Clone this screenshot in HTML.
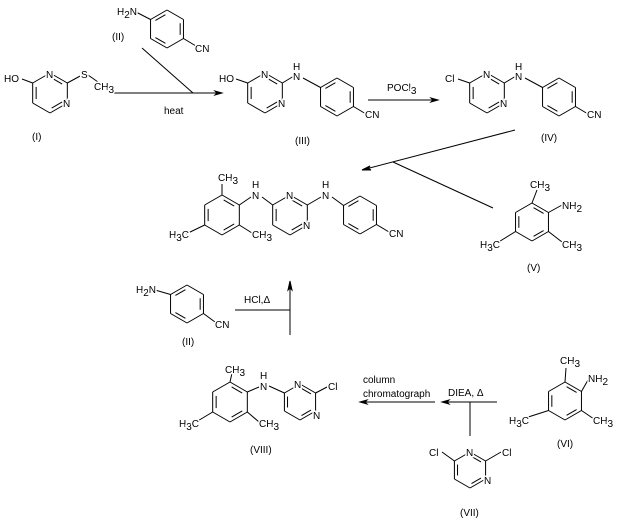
<!DOCTYPE html>
<html><head><meta charset="utf-8"><style>
html,body{margin:0;padding:0;background:#fff;width:617px;height:520px;overflow:hidden}
svg text{font-family:"Liberation Sans",sans-serif;font-size:10px;fill:#000;stroke:#fff;stroke-width:3px;paint-order:stroke}
svg text.s{font-size:7px}
</style></head><body>
<svg id="g" width="617" height="520" viewBox="0 0 617 520" xmlns="http://www.w3.org/2000/svg">
<g id="geo" stroke="#000" stroke-width="1" fill="none"></g>
<g id="txt">
<!-- I -->
<text x="4" y="82">HO</text>
<text x="46" y="78">N</text>
<text x="63" y="107">N</text>
<text x="81" y="78">S</text>
<text x="94" y="90">CH<tspan class="s" dy="3">3</tspan></text>
<text x="32" y="140">(I)</text>
<!-- II top -->
<text x="117" y="15">H<tspan class="s" dy="3">2</tspan><tspan dy="-3">N</tspan></text>
<text x="195" y="52">CN</text>
<text x="112" y="40">(II)</text>
<text x="164" y="114">heat</text>
<!-- III -->
<text x="219" y="82">HO</text>
<text x="261" y="78">N</text>
<text x="278" y="107">N</text>
<text x="293" y="70">H</text>
<text x="293" y="80">N</text>
<text x="365" y="118">CN</text>
<text x="295" y="144">(III)</text>
<!-- arrow 2 -->
<text x="387" y="91">POCl<tspan class="s" dy="3">3</tspan></text>
<!-- IV -->
<text x="445" y="82">Cl</text>
<text x="483" y="78">N</text>
<text x="500" y="107">N</text>
<text x="515" y="70">H</text>
<text x="515" y="80">N</text>
<text x="587" y="118">CN</text>
<text x="541" y="141">(IV)</text>
<!-- product -->
<text x="218" y="181">CH<tspan class="s" dy="3">3</tspan></text>
<text x="252" y="188">H</text>
<text x="252" y="199">N</text>
<text x="286" y="199">N</text>
<text x="303" y="229">N</text>
<text x="322" y="188">H</text>
<text x="322" y="199">N</text>
<text x="169" y="238">H<tspan class="s" dy="3">3</tspan><tspan dy="-3">C</tspan></text>
<text x="252" y="238">CH<tspan class="s" dy="3">3</tspan></text>
<text x="389" y="237">CN</text>
<!-- V -->
<text x="530" y="188">CH<tspan class="s" dy="3">3</tspan></text>
<text x="562" y="209">NH<tspan class="s" dy="3">2</tspan></text>
<text x="480" y="248">H<tspan class="s" dy="3">3</tspan><tspan dy="-3">C</tspan></text>
<text x="562" y="248">CH<tspan class="s" dy="3">3</tspan></text>
<text x="527" y="271">(V)</text>
<!-- II bottom -->
<text x="136" y="293">H<tspan class="s" dy="3">2</tspan><tspan dy="-3">N</tspan></text>
<text x="215" y="328">CN</text>
<text x="182" y="345">(II)</text>
<text x="244" y="303">HCl,Δ</text>
<!-- VIII -->
<text x="225" y="373">CH<tspan class="s" dy="3">3</tspan></text>
<text x="260" y="379">H</text>
<text x="260" y="390">N</text>
<text x="294" y="388">N</text>
<text x="328" y="390">Cl</text>
<text x="313" y="419">N</text>
<text x="179" y="427">H<tspan class="s" dy="3">3</tspan><tspan dy="-3">C</tspan></text>
<text x="259" y="427">CH<tspan class="s" dy="3">3</tspan></text>
<text x="250" y="453">(VIII)</text>
<!-- arrows text -->
<text x="363" y="383">column</text>
<text x="363" y="397">chromatograph</text>
<text x="448" y="396">DIEA, Δ</text>
<!-- VII -->
<text x="429" y="456">Cl</text>
<text x="466" y="456">N</text>
<text x="502" y="456">Cl</text>
<text x="484" y="484">N</text>
<text x="460" y="516">(VII)</text>
<!-- VI -->
<text x="560" y="364">CH<tspan class="s" dy="3">3</tspan></text>
<text x="588" y="382">NH<tspan class="s" dy="3">2</tspan></text>
<text x="509" y="424">H<tspan class="s" dy="3">3</tspan><tspan dy="-3">C</tspan></text>
<text x="593" y="424">CH<tspan class="s" dy="3">3</tspan></text>
<text x="557" y="447">(VI)</text>
</g>
</svg>
<script>
(function(){
var g=document.getElementById('geo'),NS='http://www.w3.org/2000/svg';
function L(a,b,c,d){var e=document.createElementNS(NS,'line');e.setAttribute('x1',a);e.setAttribute('y1',b);e.setAttribute('x2',c);e.setAttribute('y2',d);g.appendChild(e);}
function P(pts){var e=document.createElementNS(NS,'polygon');e.setAttribute('points',pts);e.setAttribute('fill','#000');g.appendChild(e);}
function ring(cx,cy,r,db){var v=[];for(var i=0;i<6;i++){var a=(-90+60*i)*Math.PI/180;v.push([cx+r*Math.cos(a),cy+r*Math.sin(a)]);}
for(i=0;i<6;i++){var p=v[i],q=v[(i+1)%6];L(p[0],p[1],q[0],q[1]);}
db.forEach(function(i){var p=v[i],q=v[(i+1)%6];var p1=[p[0]+(cx-p[0])*.2,p[1]+(cy-p[1])*.2],q1=[q[0]+(cx-q[0])*.2,q[1]+(cy-q[1])*.2];
L(p1[0]+(q1[0]-p1[0])*.12,p1[1]+(q1[1]-p1[1])*.12,p1[0]+(q1[0]-p1[0])*.88,p1[1]+(q1[1]-p1[1])*.88);});return v;}
function arrL(x1,y,x2){L(x1,y,x2,y);var d=x2>x1?1:-1;P(x2+','+y+' '+(x2-7*d)+','+(y-2)+' '+(x2-5*d)+','+y+' '+(x2-7*d)+','+(y+2));}
var B=[1,3,5],Y=[0,2,4];
// I
var v=ring(50,93,20,Y);L(v[5][0],v[5][1],22,79);L(v[1][0],v[1][1],82,75);L(88,75,98,82);
// II top
v=ring(167,29,19,B);L(v[5][0],v[5][1],136,12);L(v[2][0],v[2][1],196,46);
// arrow1
arrL(110,93,222);L(142,48,193,93);
// III
v=ring(265,93,20,Y);L(v[5][0],v[5][1],236,79);L(v[1][0],v[1][1],294,76);
var w=ring(337,97,19,B);L(303,78,w[5][0],w[5][1]);L(w[2][0],w[2][1],366,114);
// arrow2
arrL(368,100,438);
// IV
v=ring(487,93,20,Y);L(v[5][0],v[5][1],458,79);L(v[1][0],v[1][1],516,76);
w=ring(559,97,19,B);L(525,78,w[5][0],w[5][1]);L(w[2][0],w[2][1],588,114);
// arrow 3
L(515,130,362,170);P('362,170 370,166 368,168.5 371,170');L(393,162,493,208);
// product
v=ring(222,215,20,[0,2,4]);L(v[0][0],v[0][1],222,184);L(v[1][0],v[1][1],251,197);L(v[2][0],v[2][1],252,233);L(v[4][0],v[4][1],186,234);
w=ring(290,215,20,Y);L(262,197,w[5][0],w[5][1]);L(w[1][0],w[1][1],321,197);
var u=ring(360,215,19,B);L(332,197,u[5][0],u[5][1]);L(u[2][0],u[2][1],389,232);
// V
v=ring(532,222,19,[0,2,4]);L(v[0][0],v[0][1],537,190);L(v[1][0],v[1][1],562,205);L(v[2][0],v[2][1],562,242);L(v[4][0],v[4][1],497,243);
// II bottom
v=ring(187,304,19,B);L(v[5][0],v[5][1],155,290);L(v[2][0],v[2][1],215,322);
L(235,310,290,310);L(290,335,290,283);P('290,281 288,290 290,288 292,290');
// VIII
v=ring(230,402,20,[0,2,4]);L(v[0][0],v[0][1],232,373);L(v[1][0],v[1][1],259,387);L(v[2][0],v[2][1],259,422);L(v[4][0],v[4][1],196,422);
w=ring(300,402,18,Y);L(269,386,w[5][0],w[5][1]);L(w[1][0],w[1][1],327,387);
// arrows bottom
arrL(435,402,360);arrL(497,402,442);L(470,402,470,436);
// VII
v=ring(470,470,18,Y);L(v[5][0],v[5][1],442,452);L(v[1][0],v[1][1],501,452);
// VI
v=ring(565,401,19,[0,2,4]);L(v[0][0],v[0][1],566,368);L(v[1][0],v[1][1],588,380);L(v[2][0],v[2][1],594,419);L(v[4][0],v[4][1],522,419);
})();
</script>
</body></html>
